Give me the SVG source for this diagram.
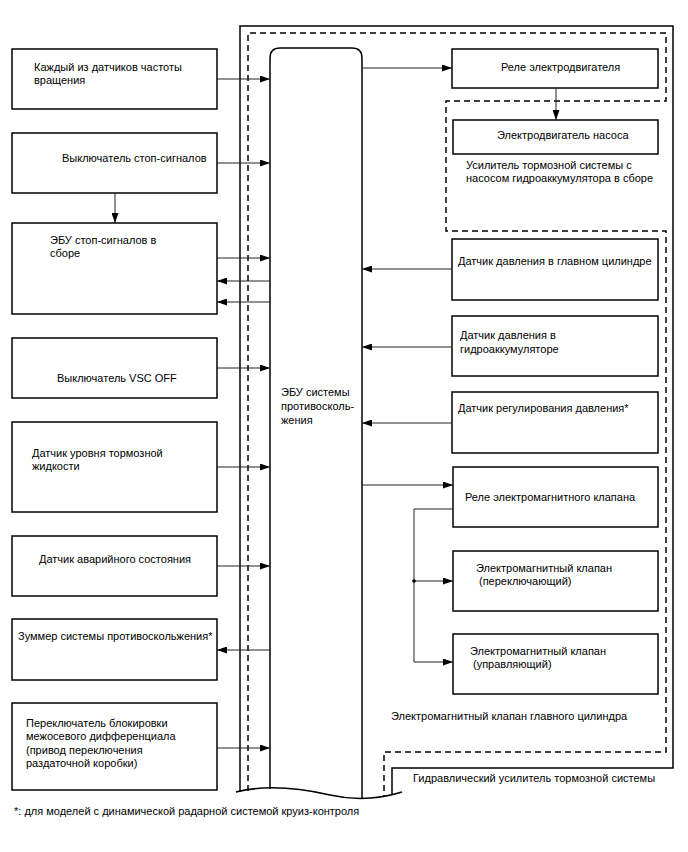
<svg xmlns="http://www.w3.org/2000/svg" width="688" height="852" viewBox="0 0 688 852">
<defs>
<marker id="ah" markerWidth="10" markerHeight="7" refX="10" refY="3.5" orient="auto" markerUnits="userSpaceOnUse"><path d="M0,0 L10,3.5 L0,7 z" fill="#000"/></marker>
<style>
.box{fill:#fff;stroke:#000;stroke-width:1.5}
.t{font-family:"Liberation Sans",Arial,sans-serif;font-size:11px;fill:#000}
.c{fill:none;stroke:#222;stroke-width:1}
.dash{fill:none;stroke:#000;stroke-width:1.5;stroke-dasharray:6 4}
.solid{fill:none;stroke:#000;stroke-width:1.5}
</style>
</defs>
<rect width="688" height="852" fill="#fff"/>
<g id="frame">
<path class="solid" d="M240,792 L240,26 L673,26 L673,768 L392,768 L392,795"/>
<path class="dash" d="M248,791 L248,33 L666,33 L666,101 L446,101 L446,231 L666,231 L666,752 L384,752 L384,797"/>
<path class="solid" d="M236,792 C260,786 290,786 330,795 C352,800 376,800 402,792"/>
</g>
<g id="ecu">
<path class="solid" d="M270,789 L270,58 Q270,48 280,48 L352,48 Q362,48 362,58 L362,798"/>
<text class="t" x="281" y="396">ЭБУ системы</text>
<text class="t" x="281" y="410">противосколь-</text>
<text class="t" x="281" y="424">жения</text>
</g>
<g id="n1"><rect class="box" x="12" y="49" width="205" height="60"/><text class="t" x="34" y="71">Каждый из датчиков частоты</text><text class="t" x="34" y="84">вращения</text></g>
<g id="n2"><rect class="box" x="12" y="133" width="205" height="60"/><text class="t" x="62" y="162">Выключатель стоп-сигналов</text></g>
<g id="n3"><rect class="box" x="12" y="223" width="205" height="91"/><text class="t" x="50" y="244">ЭБУ стоп-сигналов в</text><text class="t" x="50" y="257">сборе</text></g>
<g id="n4"><rect class="box" x="12" y="338" width="205" height="60"/><text class="t" x="57" y="382">Выключатель VSC OFF</text></g>
<g id="n5"><rect class="box" x="12" y="422" width="205" height="90"/><text class="t" x="32" y="457">Датчик уровня тормозной</text><text class="t" x="32" y="470">жидкости</text></g>
<g id="n6"><rect class="box" x="12" y="536" width="205" height="60"/><text class="t" x="39" y="563">Датчик аварийного состояния</text></g>
<g id="n7"><rect class="box" x="12" y="619" width="205" height="61"/><text class="t" x="18" y="640">Зуммер системы противоскольжения*</text></g>
<g id="n8"><rect class="box" x="12" y="703" width="205" height="87"/><text class="t" x="26" y="727">Переключатель блокировки</text><text class="t" x="26" y="740">межосевого дифференциала</text><text class="t" x="26" y="754">(привод переключения</text><text class="t" x="26" y="767">раздаточной коробки)</text></g>
<g id="r1"><rect class="box" x="452" y="49" width="206" height="39"/><text class="t" x="501" y="71">Реле электродвигателя</text></g>
<g id="r2"><rect class="box" x="453" y="120" width="205" height="34"/><text class="t" x="497" y="139">Электродвигатель насоса</text></g>
<g id="pumpLabel"><text class="t" x="466" y="169">Усилитель тормозной системы с</text><text class="t" x="466" y="182">насосом гидроаккумулятора в сборе</text></g>
<g id="r3"><rect class="box" x="452" y="239" width="206" height="61"/><text class="t" x="458" y="265">Датчик давления в главном цилиндре</text></g>
<g id="r4"><rect class="box" x="452" y="316" width="206" height="60"/><text class="t" x="460" y="339">Датчик давления в</text><text class="t" x="460" y="353">гидроаккумуляторе</text></g>
<g id="r5"><rect class="box" x="452" y="392" width="206" height="61"/><text class="t" x="458" y="412">Датчик регулирования давления*</text></g>
<g id="r6"><rect class="box" x="453" y="467" width="205" height="60"/><text class="t" x="465" y="501">Реле электромагнитного клапана</text></g>
<g id="r7"><rect class="box" x="453" y="551" width="205" height="60"/><text class="t" x="476" y="572">Электромагнитный клапан</text><text class="t" x="479" y="585">(переключающий)</text></g>
<g id="r8"><rect class="box" x="453" y="634" width="205" height="60"/><text class="t" x="470" y="655">Электромагнитный клапан</text><text class="t" x="473" y="668">(управляющий)</text></g>
<g id="labels">
<text class="t" x="391" y="720">Электромагнитный клапан главного цилиндра</text>
<text class="t" x="413" y="782">Гидравлический усилитель тормозной системы</text>
<text class="t" x="14" y="815">*: для моделей с динамической радарной системой круиз-контроля</text>
</g>
<g id="connectors">
<line class="c" x1="217" y1="79" x2="270" y2="79" marker-end="url(#ah)"/>
<line class="c" x1="217" y1="163" x2="270" y2="163" marker-end="url(#ah)"/>
<line class="c" x1="115" y1="193" x2="115" y2="223" marker-end="url(#ah)"/>
<line class="c" x1="217" y1="258" x2="270" y2="258" marker-end="url(#ah)"/>
<line class="c" x1="270" y1="281" x2="217" y2="281" marker-end="url(#ah)"/>
<line class="c" x1="270" y1="302" x2="217" y2="302" marker-end="url(#ah)"/>
<line class="c" x1="217" y1="368" x2="270" y2="368" marker-end="url(#ah)"/>
<line class="c" x1="217" y1="467" x2="270" y2="467" marker-end="url(#ah)"/>
<line class="c" x1="217" y1="566" x2="270" y2="566" marker-end="url(#ah)"/>
<line class="c" x1="270" y1="650" x2="217" y2="650" marker-end="url(#ah)"/>
<line class="c" x1="217" y1="748" x2="270" y2="748" marker-end="url(#ah)"/>
<line class="c" x1="362" y1="68" x2="452" y2="68" marker-end="url(#ah)"/>
<line class="c" x1="556" y1="88" x2="556" y2="120" marker-end="url(#ah)"/>
<line class="c" x1="452" y1="269" x2="362" y2="269" marker-end="url(#ah)"/>
<line class="c" x1="452" y1="347" x2="362" y2="347" marker-end="url(#ah)"/>
<line class="c" x1="452" y1="423" x2="362" y2="423" marker-end="url(#ah)"/>
<line class="c" x1="362" y1="485" x2="453" y2="485" marker-end="url(#ah)"/>
<path class="c" d="M453,509 L414,509 L414,662 L453,662" marker-end="url(#ah)"/>
<line class="c" x1="414" y1="581" x2="453" y2="581" marker-end="url(#ah)"/>
<circle cx="414" cy="581" r="1.8" fill="#000"/>
</g>
</svg>
